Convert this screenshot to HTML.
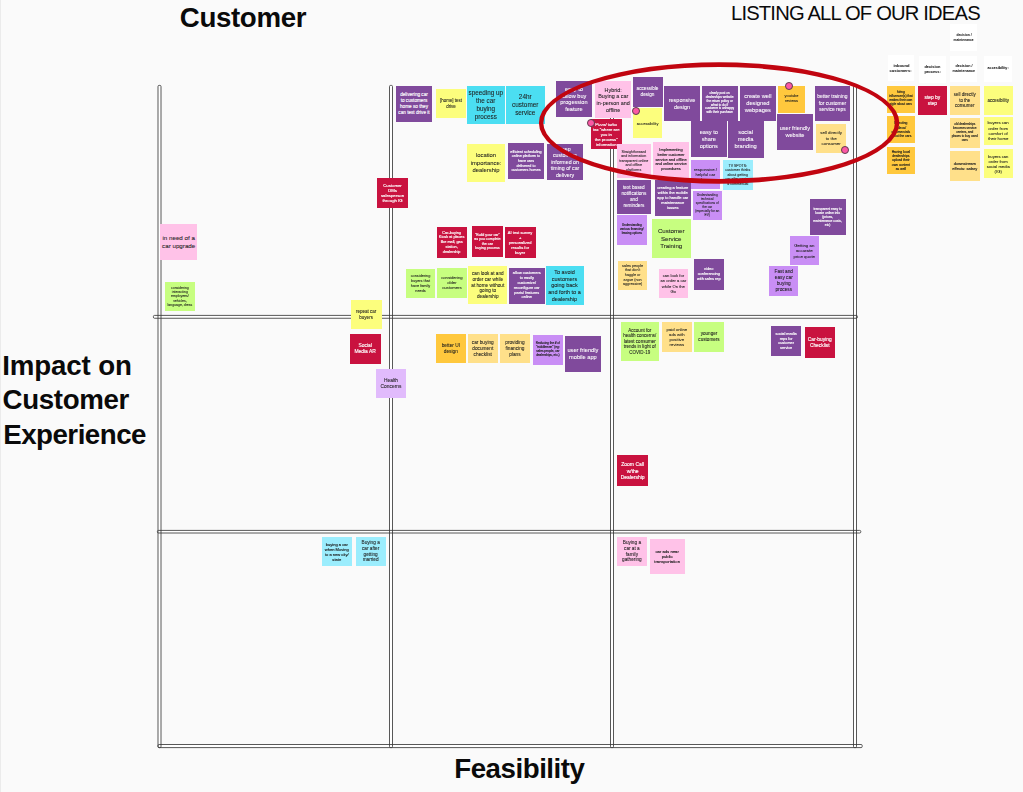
<!DOCTYPE html>
<html><head><meta charset="utf-8"><title>Listing all of our ideas</title>
<style>
html,body{margin:0;padding:0;}
body{width:1023px;height:792px;position:relative;overflow:hidden;background:#fafafa;font-family:"Liberation Sans",sans-serif;}
.t{position:absolute;white-space:nowrap;color:#0a0a0a;font-weight:700;font-size:27.7px;line-height:30px;letter-spacing:-0.5px;}
.ln{position:absolute;box-sizing:border-box;border:0.8px solid #2e2e2e;background:#fff;border-radius:2px;}
.n{position:absolute;display:flex;flex-direction:column;justify-content:center;align-items:center;text-align:center;white-space:nowrap;overflow:hidden;}
.n span{display:block;-webkit-text-stroke:0.07px currentColor;}
.n.b span{-webkit-text-stroke:0.14px currentColor;}
.n.bb span{font-weight:700;transform:scaleX(.95);-webkit-text-stroke:0;}
.dot{position:absolute;width:5.9px;height:5.9px;border-radius:50%;background:#fb58a4;border:0.5px solid #5a3a4c;box-sizing:content-box;}
#notes{position:absolute;left:0;top:0;width:1023px;height:792px;filter:blur(0.35px);}
</style></head><body>

<div style="position:absolute;left:0;top:0;width:1px;height:792px;background:#ebebeb"></div>
<div class="t" style="left:179.8px;top:3.2px;letter-spacing:-0.37px">Customer</div>
<div class="t" style="left:731px;top:1px;font-weight:400;font-size:20.2px;line-height:24px;letter-spacing:-0.82px">LISTING ALL OF OUR IDEAS</div>
<div class="t" style="left:2.2px;top:350.8px;letter-spacing:-0.12px">Impact on</div>
<div class="t" style="left:2.5px;top:385.2px;letter-spacing:-0.35px">Customer</div>
<div class="t" style="left:3.2px;top:420.4px;letter-spacing:-0.5px">Experience</div>
<div class="t" style="left:454.2px;top:753.7px;letter-spacing:-0.46px">Feasibility</div>
<svg style="position:absolute;left:0;top:0" width="1023" height="792" viewBox="0 0 1023 792"><g fill="#ffffff" stroke="none"><rect x="158.0" y="85.4" width="3.00" height="662.20" rx="1.1"/><rect x="389.5" y="85.4" width="3.00" height="662.20" rx="1.1"/><rect x="610.5" y="85.4" width="3.00" height="662.20" rx="1.1"/><rect x="853.5" y="85.4" width="3.00" height="662.20" rx="1.1"/><rect x="153.4" y="315.4" width="704.00" height="2.85" rx="1.1"/><rect x="157.4" y="530.4" width="703.40" height="2.60" rx="1.1"/><rect x="158.0" y="744.5" width="704.20" height="3.10" rx="1.1"/></g><g fill="none" stroke="#3a3a3a" stroke-width="0.85"><rect x="158.0" y="85.4" width="3.00" height="662.20" rx="1.1"/><rect x="389.5" y="85.4" width="3.00" height="662.20" rx="1.1"/><rect x="610.5" y="85.4" width="3.00" height="662.20" rx="1.1"/><rect x="853.5" y="85.4" width="3.00" height="662.20" rx="1.1"/><rect x="153.4" y="315.4" width="704.00" height="2.85" rx="1.1"/><rect x="157.4" y="530.4" width="703.40" height="2.60" rx="1.1"/><rect x="158.0" y="744.5" width="704.20" height="3.10" rx="1.1"/></g></svg>
<div id="notes">
<div class="n b" style="left:396px;top:85.5px;width:36.00px;height:36.00px;background:#804a9c;color:#ffffff;font-size:4.66px;line-height:5.75px;box-sizing:border-box;padding-top:0.5px;"><span>delivering car</span><span>to customers</span><span>home so they</span><span>can test drive it</span></div>
<div class="n" style="left:436px;top:89px;width:30.00px;height:28.50px;background:#fcfe7d;color:#1e1e1e;font-size:4.45px;line-height:5.5px;box-sizing:border-box;padding-top:0.5px;"><span>[home] test</span><span>drive</span></div>
<div class="n" style="left:467px;top:85.5px;width:37.50px;height:38.50px;background:#4bdef2;color:#1e1e1e;font-size:6.32px;line-height:7.8px;box-sizing:border-box;padding-top:0.5px;"><span>speeding up</span><span>the car</span><span>buying</span><span>process</span></div>
<div class="n" style="left:506px;top:85.5px;width:38.50px;height:38.20px;background:#4bdef2;color:#1e1e1e;font-size:6.4px;line-height:7.9px;box-sizing:border-box;padding-top:0.5px;"><span>24hr</span><span>customer</span><span>service</span></div>
<div class="n" style="left:556px;top:81px;width:35.75px;height:36.40px;background:#804a9c;color:#ffffff;font-size:5.59px;line-height:6.9px;box-sizing:border-box;padding-top:0.5px;"><span>easy to</span><span>follow buy</span><span>progession</span><span>feature</span></div>
<div class="n" style="left:595px;top:81.3px;width:36.40px;height:37.20px;background:#ffc2e8;color:#1e1e1e;font-size:5.43px;line-height:6.7px;box-sizing:border-box;padding-top:0.5px;"><span>Hybrid:</span><span>Buying a car</span><span>in-person and</span><span>offline</span></div>
<div class="n" style="left:632.5px;top:76.5px;width:30.00px;height:30.25px;background:#804a9c;color:#ffffff;font-size:4.7px;line-height:5.8px;box-sizing:border-box;padding-top:0.5px;"><span>accessible</span><span>design</span></div>
<div class="n" style="left:632.8px;top:108px;width:29.70px;height:29.50px;background:#fcfe7d;color:#1e1e1e;font-size:4.05px;line-height:5px;box-sizing:border-box;padding-top:0.5px;"><span>accessibility</span></div>
<div class="n" style="left:664.1px;top:85.5px;width:35.90px;height:35.50px;background:#804a9c;color:#ffffff;font-size:5.51px;line-height:6.8px;box-sizing:border-box;padding-top:0.5px;"><span>responsive</span><span>design</span></div>
<div class="n b" style="left:701.75px;top:85.5px;width:35.75px;height:35.50px;background:#804a9c;color:#ffffff;font-size:3.16px;line-height:3.9px;box-sizing:border-box;padding-top:0.5px;"><span>clearly post on</span><span>dealerships website</span><span>the return policy or</span><span>what to do if</span><span>customer is unhappy</span><span>with their purchase</span></div>
<div class="n" style="left:740px;top:85.5px;width:35.75px;height:35.50px;background:#804a9c;color:#ffffff;font-size:5.75px;line-height:7.1px;box-sizing:border-box;padding-top:0.5px;"><span>create well</span><span>designed</span><span>webpages</span></div>
<div class="n" style="left:777.75px;top:85.5px;width:27.50px;height:27.00px;background:#ffc83d;color:#1e1e1e;font-size:3.89px;line-height:4.8px;box-sizing:border-box;padding-top:0.5px;"><span>youtube</span><span>reviews</span></div>
<div class="n" style="left:814.5px;top:85.5px;width:35.75px;height:35.75px;background:#804a9c;color:#ffffff;font-size:4.94px;line-height:6.1px;box-sizing:border-box;padding-top:0.5px;"><span>better training</span><span>for customer</span><span>service reps</span></div>
<div class="n" style="left:691px;top:121px;width:35.50px;height:35.75px;background:#804a9c;color:#ffffff;font-size:5.67px;line-height:7px;box-sizing:border-box;padding-top:0.5px;"><span>easy to</span><span>share</span><span>options</span></div>
<div class="n" style="left:727.75px;top:121px;width:35.75px;height:36.50px;background:#804a9c;color:#ffffff;font-size:5.75px;line-height:7.1px;box-sizing:border-box;padding-top:0.5px;"><span>social</span><span>media</span><span>branding</span></div>
<div class="n" style="left:777px;top:114px;width:35.75px;height:35.50px;background:#804a9c;color:#ffffff;font-size:5.59px;line-height:6.9px;box-sizing:border-box;padding-top:0.5px;"><span>user friendly</span><span>website</span></div>
<div class="n" style="left:816.25px;top:123.5px;width:29.75px;height:29.25px;background:#ffe08a;color:#1e1e1e;font-size:4.37px;line-height:5.4px;box-sizing:border-box;padding-top:0.5px;"><span>sell directly</span><span>to the</span><span>consumer</span></div>
<div class="n b" style="left:591px;top:119px;width:30.50px;height:30.00px;background:#c9123f;color:#ffffff;font-size:4.13px;line-height:5.1px;box-sizing:border-box;padding-top:0.5px;"><span>Pizza/ turbo</span><span>tax "where are</span><span>you in</span><span>the process"</span><span>information</span></div>
<div class="n" style="left:467px;top:144px;width:38.00px;height:38.00px;background:#fcfe7d;color:#1e1e1e;font-size:5.87px;line-height:7.25px;box-sizing:border-box;padding-top:0.5px;"><span>location</span><span>importance:</span><span>dealership</span></div>
<div class="n b" style="left:508px;top:143px;width:36.00px;height:36.00px;background:#804a9c;color:#ffffff;font-size:3.69px;line-height:4.56px;box-sizing:border-box;padding-top:0.5px;"><span>efficient scheduling</span><span>online platform to</span><span>have cars</span><span>delivered to</span><span>customers homes</span></div>
<div class="n" style="left:547px;top:144px;width:36.00px;height:35.50px;background:#804a9c;color:#ffffff;font-size:5.26px;line-height:6.5px;box-sizing:border-box;padding-top:0.5px;"><span>keep</span><span>customers</span><span>informed on</span><span>timing of car</span><span>delivery</span></div>
<div class="n" style="left:616.75px;top:143.75px;width:34.00px;height:33.75px;background:#ffc2e8;color:#1e1e1e;font-size:3.63px;line-height:4.48px;box-sizing:border-box;padding-top:0.5px;"><span>Straightforward</span><span>and information</span><span>transparent online</span><span>and offline</span><span>platforms</span></div>
<div class="n b" style="left:653px;top:142px;width:36.00px;height:35.50px;background:#ffc2e8;color:#1e1e1e;font-size:3.89px;line-height:4.8px;box-sizing:border-box;padding-top:0.5px;"><span>Implementing</span><span>better customer</span><span>service and offline</span><span>and online service</span><span>procedures</span></div>
<div class="n" style="left:690.75px;top:159.75px;width:29.25px;height:29.25px;background:#c98ef5;color:#1e1e1e;font-size:4.29px;line-height:5.3px;box-sizing:border-box;padding-top:0.5px;"><span>responsive /</span><span>helpful car</span><span>salesman</span></div>
<div class="n" style="left:723px;top:159.75px;width:29.50px;height:30.05px;background:#9bedfd;color:#1e1e1e;font-size:3.56px;line-height:4.4px;box-sizing:border-box;padding-top:0.5px;"><span>TV SPOTS:</span><span>customer thinks</span><span>about getting</span><span>car after seeing</span><span>a commercial</span></div>
<div class="n" style="left:617px;top:180px;width:33.75px;height:33.75px;background:#804a9c;color:#ffffff;font-size:4.72px;line-height:5.83px;box-sizing:border-box;padding-top:0.5px;"><span>text based</span><span>notifications</span><span>and</span><span>reminders</span></div>
<div class="n b" style="left:655px;top:180px;width:35.50px;height:35.75px;background:#804a9c;color:#ffffff;font-size:4.01px;line-height:4.95px;box-sizing:border-box;padding-top:0.5px;"><span>creating a feature</span><span>within the mobile</span><span>app to handle car</span><span>maintenance</span><span>issues</span></div>
<div class="n" style="left:692.75px;top:191.1px;width:29.00px;height:28.90px;background:#c98ef5;color:#1e1e1e;font-size:3.21px;line-height:3.96px;box-sizing:border-box;padding-top:0.5px;"><span>Understanding</span><span>technical</span><span>specifications of</span><span>the car</span><span>(especially for an</span><span>EV)</span></div>
<div class="n b" style="left:617px;top:215px;width:29.75px;height:29.50px;background:#c98ef5;color:#1e1e1e;font-size:3.04px;line-height:3.75px;box-sizing:border-box;padding-top:0.5px;"><span>Understanding</span><span>various financing/</span><span>leasing options</span></div>
<div class="n" style="left:652px;top:218.75px;width:38.50px;height:38.75px;background:#c7fe80;color:#1e1e1e;font-size:6.15px;line-height:7.6px;box-sizing:border-box;padding-top:0.5px;"><span>Customer</span><span>Service</span><span>Training</span></div>
<div class="n b" style="left:377px;top:177.5px;width:31.00px;height:30.75px;background:#c9123f;color:#ffffff;font-size:4.29px;line-height:5.3px;box-sizing:border-box;padding-top:0.5px;"><span>Customer</span><span>DMs</span><span>salesperson</span><span>through IG</span></div>
<div class="n b" style="left:809.5px;top:199px;width:36.25px;height:35.50px;background:#804a9c;color:#ffffff;font-size:3.32px;line-height:4.1px;box-sizing:border-box;padding-top:0.5px;"><span>transparent easy to</span><span>locate online info</span><span>(prices,</span><span>maintenance costs,</span><span>etc)</span></div>
<div class="n" style="left:789.5px;top:236px;width:29.50px;height:29.25px;background:#c98ef5;color:#1e1e1e;font-size:4.37px;line-height:5.4px;box-sizing:border-box;padding-top:0.5px;"><span>Getting an</span><span>accurate</span><span>price quote</span></div>
<div class="n" style="left:769.25px;top:266.25px;width:29.00px;height:29.25px;background:#c98ef5;color:#1e1e1e;font-size:4.78px;line-height:5.9px;box-sizing:border-box;padding-top:0.5px;"><span>Fast and</span><span>easy car</span><span>buying</span><span>process</span></div>
<div class="n b" style="left:693.5px;top:258.75px;width:30.50px;height:30.75px;background:#804a9c;color:#ffffff;font-size:3.89px;line-height:4.8px;box-sizing:border-box;padding-top:0.5px;"><span>video</span><span>conferencing</span><span>with sales rep</span></div>
<div class="n" style="left:659px;top:269.25px;width:28.75px;height:28.25px;background:#ffc2e8;color:#1e1e1e;font-size:4.16px;line-height:5.14px;box-sizing:border-box;padding-top:0.5px;"><span>can look for</span><span>an order a car</span><span>while On the</span><span>Go</span></div>
<div class="n" style="left:618px;top:260.5px;width:29.25px;height:29.00px;background:#ffe08a;color:#1e1e1e;font-size:3.76px;line-height:4.64px;box-sizing:border-box;padding-top:0.5px;"><span>sales people</span><span>that don't</span><span>haggle or</span><span>argue (non</span><span>aggressive)</span></div>
<div class="n b" style="left:436.5px;top:226.75px;width:30.25px;height:31.00px;background:#c9123f;color:#ffffff;font-size:3.81px;line-height:4.7px;box-sizing:border-box;padding-top:0.5px;"><span>Car-buying</span><span>Kiosk at places</span><span>like mall, gas</span><span>station,</span><span>dealership</span></div>
<div class="n b" style="left:472px;top:226px;width:30.75px;height:30.75px;background:#c9123f;color:#ffffff;font-size:3.64px;line-height:4.5px;box-sizing:border-box;padding-top:0.5px;"><span>"Build your car"</span><span>as you complete</span><span>the car</span><span>buying process</span></div>
<div class="n b" style="left:504.75px;top:226.75px;width:30.75px;height:31.00px;background:#c9123f;color:#ffffff;font-size:4.05px;line-height:5.0px;box-sizing:border-box;padding-top:0.5px;"><span>AI test survey</span><span>+</span><span>personalized</span><span>results for</span><span>buyer</span></div>
<div class="n" style="left:406px;top:269px;width:29.00px;height:29.00px;background:#c7fe80;color:#1e1e1e;font-size:3.85px;line-height:4.75px;box-sizing:border-box;padding-top:0.5px;"><span>considering</span><span>buyers that</span><span>have family</span><span>needs</span></div>
<div class="n" style="left:437px;top:267.75px;width:29.75px;height:29.75px;background:#c7fe80;color:#1e1e1e;font-size:4.21px;line-height:5.2px;box-sizing:border-box;padding-top:0.5px;"><span>considering</span><span>older</span><span>customers</span></div>
<div class="n" style="left:468.2px;top:266.1px;width:39.20px;height:38.40px;background:#fcfe7d;color:#1e1e1e;font-size:4.66px;line-height:5.75px;box-sizing:border-box;padding-top:0.5px;"><span>can look at and</span><span>order car while</span><span>at home without</span><span>going to</span><span>dealership</span></div>
<div class="n b" style="left:508.75px;top:267.75px;width:36.00px;height:35.75px;background:#804a9c;color:#ffffff;font-size:3.89px;line-height:4.8px;box-sizing:border-box;padding-top:0.5px;"><span>allow customers</span><span>to easily</span><span>customize/</span><span>reconfigure car</span><span>parts/ features</span><span>online</span></div>
<div class="n" style="left:545.5px;top:266.25px;width:38.00px;height:38.75px;background:#4bdef2;color:#1e1e1e;font-size:5.51px;line-height:6.8px;box-sizing:border-box;padding-top:0.5px;"><span>To avoid</span><span>customers</span><span>going back</span><span>and forth to a</span><span>dealership</span></div>
<div class="n" style="left:160.1px;top:224px;width:37.15px;height:35.75px;background:#ffc2e8;color:#1e1e1e;font-size:6.23px;line-height:7.7px;box-sizing:border-box;padding-top:0.5px;"><span>in need of a</span><span>car upgrade</span></div>
<div class="n" style="left:165.25px;top:281.5px;width:29.25px;height:29.75px;background:#c7fe80;color:#1e1e1e;font-size:3.48px;line-height:4.3px;box-sizing:border-box;padding-top:0.5px;"><span>considering</span><span>interacting</span><span>employees/</span><span>vehicles,</span><span>language, dress</span></div>
<div class="n" style="left:350.75px;top:299.5px;width:30.75px;height:29.75px;background:#fcfe7d;color:#1e1e1e;font-size:4.53px;line-height:5.6px;box-sizing:border-box;padding-top:0.5px;"><span>repeat car</span><span>buyers</span></div>
<div class="n b" style="left:349.5px;top:333.75px;width:31.25px;height:30.50px;background:#c9123f;color:#ffffff;font-size:4.94px;line-height:6.1px;box-sizing:border-box;padding-top:0.5px;"><span>Social</span><span>Media AR</span></div>
<div class="n" style="left:376px;top:368.5px;width:30.00px;height:29.50px;background:#e1bbfc;color:#1e1e1e;font-size:4.86px;line-height:6.0px;box-sizing:border-box;padding-top:0.5px;"><span>Health</span><span>Concerns</span></div>
<div class="n" style="left:436.1px;top:334px;width:29.50px;height:28.75px;background:#ffc83d;color:#1e1e1e;font-size:4.78px;line-height:5.9px;box-sizing:border-box;padding-top:0.5px;"><span>better UI</span><span>design</span></div>
<div class="n" style="left:468px;top:334px;width:29.50px;height:29.25px;background:#ffe08a;color:#1e1e1e;font-size:4.78px;line-height:5.9px;box-sizing:border-box;padding-top:0.5px;"><span>car buying</span><span>document</span><span>checklist</span></div>
<div class="n" style="left:500.1px;top:334.3px;width:29.65px;height:29.20px;background:#ffe08a;color:#1e1e1e;font-size:4.78px;line-height:5.9px;box-sizing:border-box;padding-top:0.5px;"><span>providing</span><span>financing</span><span>plans</span></div>
<div class="n b" style="left:533px;top:335px;width:29.75px;height:29.50px;background:#c98ef5;color:#1e1e1e;font-size:3.08px;line-height:3.8px;box-sizing:border-box;padding-top:0.5px;"><span>Reducing the # of</span><span>"middlemen" (eg:</span><span>sales people, car</span><span>dealerships, etc.)</span></div>
<div class="n" style="left:565px;top:336px;width:35.75px;height:35.75px;background:#804a9c;color:#ffffff;font-size:5.67px;line-height:7.0px;box-sizing:border-box;padding-top:0.5px;"><span>user friendly</span><span>mobile app</span></div>
<div class="n" style="left:620.75px;top:322px;width:38.00px;height:38.75px;background:#c7fe80;color:#1e1e1e;font-size:4.53px;line-height:5.6px;box-sizing:border-box;padding-top:0.5px;"><span>Account for</span><span>health concerns/</span><span>latest consumer</span><span>trends in light of</span><span>COVID-19</span></div>
<div class="n" style="left:662.25px;top:322px;width:29.25px;height:29.75px;background:#ffe08a;color:#1e1e1e;font-size:4.29px;line-height:5.3px;box-sizing:border-box;padding-top:0.5px;"><span>paid online</span><span>ads with</span><span>positive</span><span>reviews</span></div>
<div class="n" style="left:694.25px;top:322px;width:29.50px;height:29.75px;background:#c7fe80;color:#1e1e1e;font-size:4.62px;line-height:5.7px;box-sizing:border-box;padding-top:0.5px;"><span>younger</span><span>customers</span></div>
<div class="n b" style="left:771.25px;top:326.25px;width:29.75px;height:29.50px;background:#804a9c;color:#ffffff;font-size:3.81px;line-height:4.7px;box-sizing:border-box;padding-top:0.5px;"><span>social media</span><span>reps for</span><span>customer</span><span>service</span></div>
<div class="n b" style="left:804.5px;top:327px;width:30.50px;height:30.75px;background:#c9123f;color:#ffffff;font-size:4.86px;line-height:6.0px;box-sizing:border-box;padding-top:0.5px;"><span>Car-buying</span><span>Checklist</span></div>
<div class="n b" style="left:617px;top:455.25px;width:31.25px;height:30.50px;background:#c9123f;color:#ffffff;font-size:5.02px;line-height:6.2px;box-sizing:border-box;padding-top:0.5px;"><span>Zoom Call</span><span>w/the</span><span>Dealership</span></div>
<div class="n b" style="left:322px;top:537px;width:29.50px;height:28.75px;background:#9bedfd;color:#1e1e1e;font-size:4.05px;line-height:5.0px;box-sizing:border-box;padding-top:0.5px;"><span>buying a car</span><span>when Moving</span><span>to a new city/</span><span>state</span></div>
<div class="n" style="left:355.75px;top:537px;width:29.75px;height:28.75px;background:#9bedfd;color:#1e1e1e;font-size:4.7px;line-height:5.8px;box-sizing:border-box;padding-top:0.5px;"><span>Buying a</span><span>car after</span><span>getting</span><span>married</span></div>
<div class="n" style="left:617px;top:537px;width:29.75px;height:28.75px;background:#ffc2e8;color:#1e1e1e;font-size:4.7px;line-height:5.8px;box-sizing:border-box;padding-top:0.5px;"><span>Buying a</span><span>car at a</span><span>family</span><span>gathering</span></div>
<div class="n b" style="left:649.75px;top:538.75px;width:34.75px;height:34.75px;background:#ffc2e8;color:#1e1e1e;font-size:4.21px;line-height:5.2px;box-sizing:border-box;padding-top:0.5px;"><span>car ads near</span><span>public</span><span>transportation</span></div>
<div class="n bb" style="left:950px;top:24px;width:27.00px;height:26.50px;background:#ffffff;color:#000;font-size:3.48px;line-height:4.3px;box-sizing:border-box;padding-top:0.5px;"><span>decision /</span><span>maintenance</span></div>
<div class="n bb" style="left:887.5px;top:54.9px;width:26.90px;height:26.60px;background:#ffffff;color:#000;font-size:4.29px;line-height:5.3px;box-sizing:border-box;padding-top:0.5px;"><span>inbound</span><span>customers:</span></div>
<div class="n bb" style="left:918.75px;top:55.5px;width:27.00px;height:27.00px;background:#ffffff;color:#000;font-size:4.13px;line-height:5.1px;box-sizing:border-box;padding-top:0.5px;"><span>decision</span><span>process:</span></div>
<div class="n bb" style="left:950px;top:55.5px;width:27.00px;height:26.25px;background:#ffffff;color:#000;font-size:3.89px;line-height:4.8px;box-sizing:border-box;padding-top:0.5px;"><span>decision /</span><span>maintenance</span></div>
<div class="n bb" style="left:984px;top:55.5px;width:27.50px;height:26.25px;background:#ffffff;color:#000;font-size:3.89px;line-height:4.8px;box-sizing:border-box;padding-top:0.5px;"><span>accesibility:</span></div>
<div class="n b" style="left:887.25px;top:85.5px;width:27.25px;height:27.00px;background:#ffc83d;color:#1e1e1e;font-size:3.16px;line-height:3.9px;box-sizing:border-box;padding-top:0.5px;"><span>hiring</span><span>influencer(s) that</span><span>makes their own</span><span>style about cars</span></div>
<div class="n b" style="left:917.75px;top:85.75px;width:29.25px;height:29.25px;background:#c9123f;color:#ffffff;font-size:4.86px;line-height:6.0px;box-sizing:border-box;padding-top:0.5px;"><span>step by</span><span>step</span></div>
<div class="n" style="left:950px;top:85.5px;width:29.50px;height:29.50px;background:#ffe08a;color:#1e1e1e;font-size:4.45px;line-height:5.5px;box-sizing:border-box;padding-top:0.5px;"><span>sell directly</span><span>to the</span><span>consumer</span></div>
<div class="n" style="left:983.7px;top:85.5px;width:29.00px;height:29.00px;background:#fcfe7d;color:#1e1e1e;font-size:4.45px;line-height:5.5px;box-sizing:border-box;padding-top:0.5px;"><span>accesibility</span></div>
<div class="n b" style="left:887.25px;top:115.75px;width:27.25px;height:27.25px;background:#ffc83d;color:#1e1e1e;font-size:3.32px;line-height:4.1px;box-sizing:border-box;padding-top:0.5px;"><span>Directing</span><span>videos/</span><span>commercials</span><span>about the cars</span></div>
<div class="n b" style="left:950px;top:118px;width:29.50px;height:29.50px;background:#ffe08a;color:#1e1e1e;font-size:3.12px;line-height:3.85px;box-sizing:border-box;padding-top:0.5px;"><span>old dealerships</span><span>becomes service</span><span>centers, and</span><span>places to buy used</span><span>cars</span></div>
<div class="n" style="left:983.7px;top:116.5px;width:29.00px;height:28.50px;background:#fcfe7d;color:#1e1e1e;font-size:4.33px;line-height:5.35px;box-sizing:border-box;padding-top:0.5px;"><span>buyers can</span><span>order from</span><span>comfort of</span><span>their home</span></div>
<div class="n b" style="left:887.25px;top:146.75px;width:27.25px;height:27.05px;background:#ffc83d;color:#1e1e1e;font-size:3.38px;line-height:4.17px;box-sizing:border-box;padding-top:0.5px;"><span>Having local</span><span>dealerships</span><span>upload their</span><span>own content</span><span>as well</span></div>
<div class="n b" style="left:950px;top:151.25px;width:29.50px;height:29.25px;background:#ffe08a;color:#1e1e1e;font-size:4.05px;line-height:5.0px;box-sizing:border-box;padding-top:0.5px;"><span>downstream</span><span>effects: salary</span></div>
<div class="n" style="left:983.7px;top:149px;width:29.00px;height:29.25px;background:#fcfe7d;color:#1e1e1e;font-size:4.17px;line-height:5.15px;box-sizing:border-box;padding-top:0.5px;"><span>buyers can</span><span>order from</span><span>social media</span><span>(IG)</span></div>
<div class="dot" style="left:586.65px;top:119.25px"></div>
<div class="dot" style="left:632.00px;top:107.25px"></div>
<div class="dot" style="left:785.25px;top:81.75px"></div>
<div class="dot" style="left:841.25px;top:146.25px"></div>
</div>
<svg style="position:absolute;left:0;top:0" width="1023" height="792" viewBox="0 0 1023 792"><path fill="#c10510" fill-rule="evenodd" d="M538.90,122.95a180.20,60.73 0 1,0 360.40,0a180.20,60.73 0 1,0 -360.40,0ZM543.30,122.95a175.80,55.97 0 1,0 351.60,0a175.80,55.97 0 1,0 -351.60,0Z"/></svg>
</body></html>
